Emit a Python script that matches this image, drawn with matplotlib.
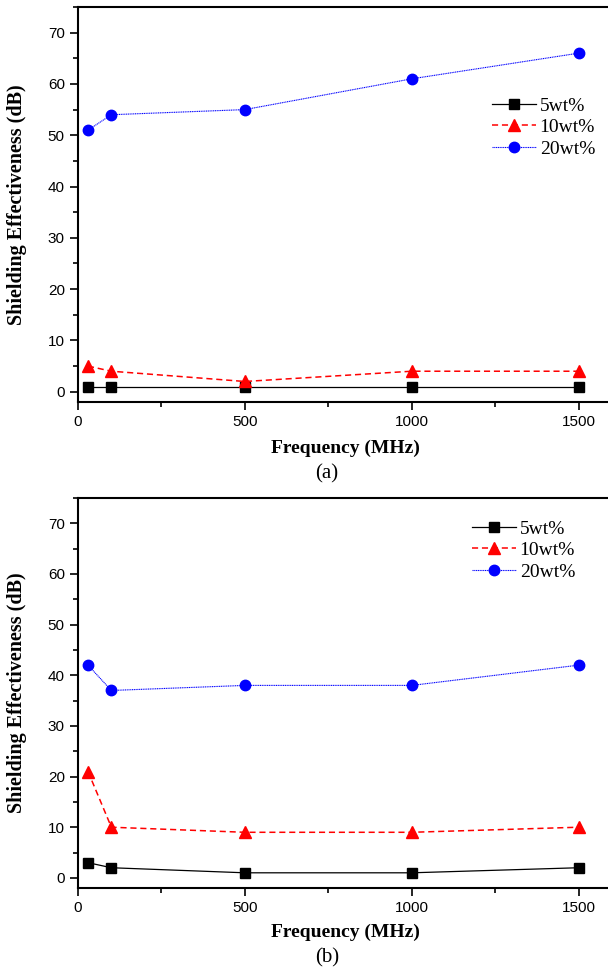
import numpy as np
import matplotlib
matplotlib.use('Agg')
import matplotlib.pyplot as plt
from matplotlib.ticker import MultipleLocator

# data
freq = [30, 100, 500, 1000, 1500]
labels = ['5wt%', '10wt%', '20wt%']

se_a_5 = [1, 1, 1, 1, 1]
se_a_10 = [5, 4, 2, 4, 4]
se_a_20 = [51, 54, 55, 61, 66]

se_b_5 = [3, 2, 1, 1, 2]
se_b_10 = [21, 10, 9, 9, 10]
se_b_20 = [42, 37, 38, 38, 42]

W, H = 608, 967
fig = plt.figure(figsize=(W / 100, H / 100), dpi=100)

serif = 'Liberation Serif'
sans = 'Liberation Sans'


def px_box(left, top, right, bottom):
    return [left / W, 1 - bottom / H, (right - left) / W, (bottom - top) / H]


def panel(ax, s5, s10, s20, leg_anchor):
    ax.plot(freq, s5, color='black', lw=0.9, marker='s', ms=6.5, label=labels[0])
    ax.plot(freq, s10, color='red', lw=1.1, ls=(0, (4, 2.5)), marker='^', ms=8, label=labels[1])
    ax.plot(freq, s20, color='blue', lw=0.8, ls=(0, (1, 0.6)), marker='o', ms=7.5, label=labels[2])
    ax.set_xlim(0, 1600)
    ax.set_ylim(-2, 75)
    ax.xaxis.set_major_locator(MultipleLocator(500))
    ax.xaxis.set_minor_locator(MultipleLocator(250))
    ax.yaxis.set_major_locator(MultipleLocator(10))
    ax.yaxis.set_minor_locator(MultipleLocator(5))
    ax.tick_params(which='both', direction='out', width=1.2, labelsize=11)
    ax.tick_params(which='major', length=6)
    ax.tick_params(which='minor', length=3.8)
    ax.tick_params(axis='x', which='both', top=False)
    ax.tick_params(axis='y', which='both', right=False)
    for lab in ax.get_xticklabels() + ax.get_yticklabels():
        lab.set_fontfamily(sans)
    for sp in ax.spines.values():
        sp.set_linewidth(1.5)
    ax.set_ylabel('Shielding Effectiveness (dB)', family=serif, weight='bold',
                  fontsize=14.5)
    ax.yaxis.set_label_coords(-0.096, 0.5)
    ax.legend(loc='upper left', bbox_to_anchor=leg_anchor, frameon=False,
              prop={'family': serif, 'size': 14}, handlelength=2.25,
              handletextpad=0.2, labelspacing=0.2, borderpad=0,
              borderaxespad=0)


ax1 = fig.add_axes(px_box(78, 7, 612, 402))
panel(ax1, se_a_5, se_a_10, se_a_20, ((492 - 78) / 534, (402 - 97) / 395))
ax2 = fig.add_axes(px_box(78, 498, 612, 888))
panel(ax2, se_b_5, se_b_10, se_b_20, ((472 - 78) / 534, (888 - 520) / 390))

fig.text(345 / W, 1 - 448 / H, 'Frequency (MHz)', family=serif, weight='bold',
         fontsize=14, ha='center', va='center')
fig.text(327 / W, 1 - 474 / H, '(a)', family=serif, fontsize=15,
         ha='center', va='center')
fig.text(345 / W, 1 - 932 / H, 'Frequency (MHz)', family=serif, weight='bold',
         fontsize=14, ha='center', va='center')
fig.text(327 / W, 1 - 958 / H, '(b)', family=serif, fontsize=15,
         ha='center', va='center')

fig.savefig('out.png', dpi=100)
